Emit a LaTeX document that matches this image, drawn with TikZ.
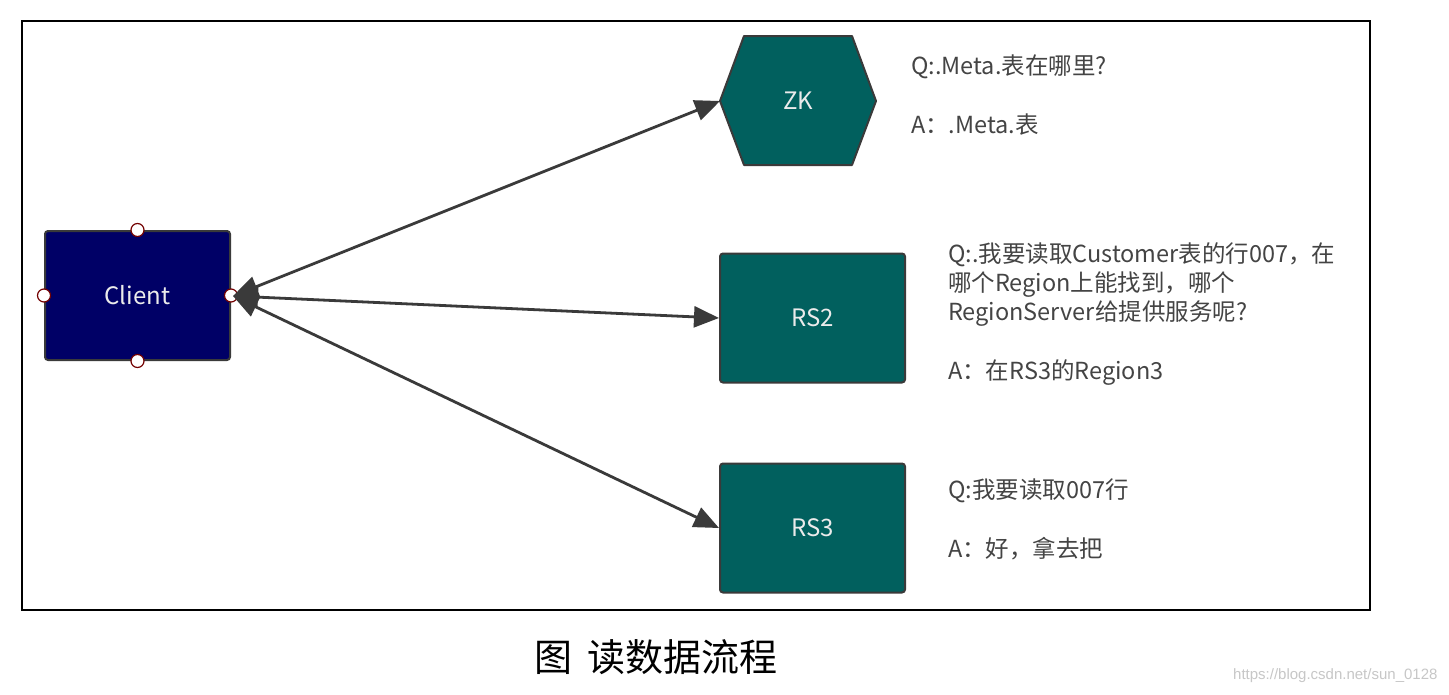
\documentclass[tikz,border=0pt]{standalone}
\usepackage{fontspec}
\setmainfont{Noto Sans CJK SC}
\newfontfamily\urlfont{Liberation Sans}
\usetikzlibrary{arrows.meta}
\definecolor{teal1}{HTML}{01605E}
\definecolor{navy1}{HTML}{000066}
\definecolor{edge1}{HTML}{3A3A3A}
\definecolor{txt1}{HTML}{444444}
\tikzset{
  boxnode/.style={draw=edge1, line width=2pt, rounded corners=3pt, minimum width=185pt, minimum height=129pt, text=white!92!black, font=\fontsize{24}{28}\selectfont},
  handle/.style={circle, draw=red!45!black, fill=white, line width=1.2pt, inner sep=0pt, minimum size=13pt},
  conn/.style={draw=edge1, line width=2.8pt, {Triangle[length=25pt,width=21pt]}-{Triangle[length=25pt,width=21pt]}},
  qa/.style={anchor=north west, align=left, inner sep=0pt, text=txt1, font=\fontsize{23.5}{29.3}\selectfont}
}
\begin{document}
\begin{tikzpicture}[x=1pt,y=-1pt]
\useasboundingbox (0,0) rectangle (1449,694);
\fill[white] (0,0) rectangle (1449,694);
\draw[black, line width=2pt] (22,21) rectangle (1370,610);
% Client
\node[boxnode, fill=navy1] (client) at (137.5,295.5) {Client};
\node[handle] (hn) at (client.north) {};
\node[handle] (hs) at (client.south) {};
\node[handle] (hw) at (client.west) {};
\node[handle] (he) at (client.east) {};
% ZK hexagon
\coordinate (zkw) at (720,101);
\coordinate (zkc) at (798,101);
\filldraw[fill=teal1, draw=edge1, line width=2pt, line join=round] (zkw) -- (744,36) -- (852,36) -- (876,101) -- (852,165) -- (744,165) -- cycle;
\node[text=white!92!black, font=\fontsize{24}{28}\selectfont] (zk) at (zkc) {ZK};
% RS nodes
\node[boxnode, fill=teal1] (rs2) at (812.5,318) {RS2};
\node[boxnode, fill=teal1] (rs3) at (812.5,528) {RS3};
% connectors
\coordinate (ce) at (233,296);
\draw[conn] (ce) -- (zkw);
\draw[conn] (ce) -- (rs2.west);
\draw[conn] (ce) -- (rs3.west);
% texts
\node[qa] (t1) at (911,55) {Q:.Meta.表在哪里?\\[29.3pt]A：.Meta.表};
\node[qa] (t2) at (948,242) {Q:.我要读取Customer表的行007，在\\哪个Region上能找到，哪个\\RegionServer给提供服务呢?\\[29.3pt]A：在RS3的Region3};
\node[qa] (t3) at (948,479) {Q:我要读取007行\\[29.3pt]A：好，拿去把};
% caption
\node[font=\fontsize{38}{42}\selectfont, text=black] (cap) at (656,657) {图\hspace{0.4em}读数据流程};
\node[font=\urlfont\fontsize{15}{17}\selectfont, text=black!22, anchor=east] (url) at (1441,676) {https://blog.csdn.net/sun\_0128};
\end{tikzpicture}
\end{document}
